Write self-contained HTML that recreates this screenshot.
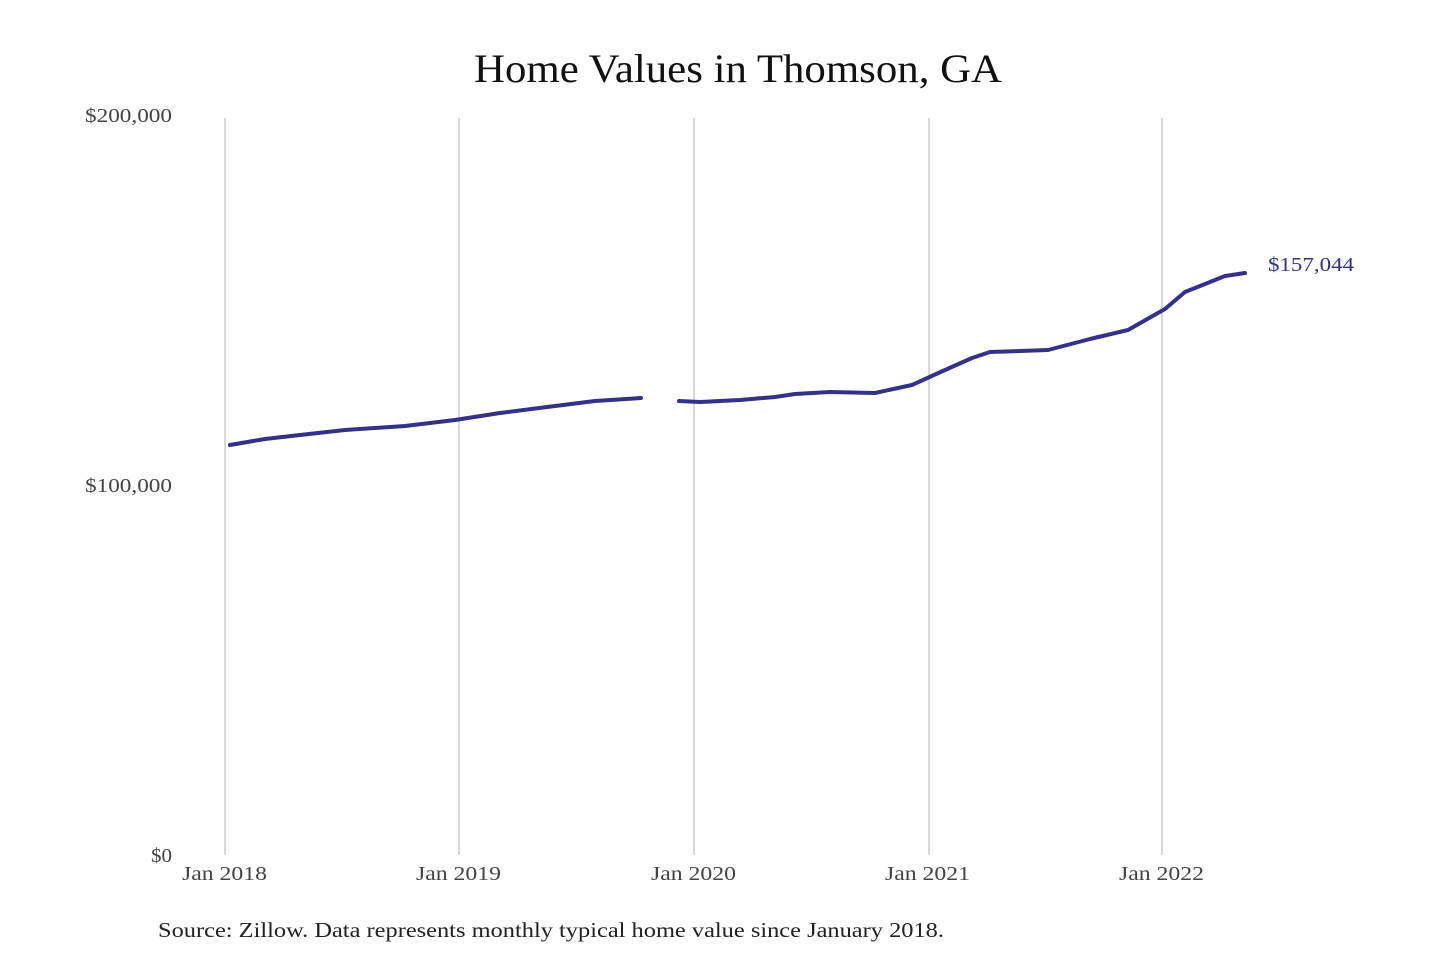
<!DOCTYPE html>
<html><head><meta charset="utf-8"><style>
html,body{margin:0;padding:0;background:#fff;}
svg text{font-family:"Liberation Serif",serif;}
</style></head><body>
<svg width="1440" height="960" xmlns="http://www.w3.org/2000/svg">
<rect width="1440" height="960" fill="#fff"/>
<text x="474" y="82" font-size="40" textLength="528" lengthAdjust="spacingAndGlyphs" fill="#111">Home Values in Thomson, GA</text>
<g stroke="#bdbdbd" stroke-width="1.2">
<line x1="225" y1="118" x2="225" y2="855"/>
<line x1="459" y1="118" x2="459" y2="855"/>
<line x1="694" y1="118" x2="694" y2="855"/>
<line x1="929" y1="118" x2="929" y2="855"/>
<line x1="1162" y1="118" x2="1162" y2="855"/>
</g>
<g font-size="20" fill="#444">
<text x="85" y="122" textLength="87" lengthAdjust="spacingAndGlyphs">$200,000</text>
<text x="85" y="492" textLength="87" lengthAdjust="spacingAndGlyphs">$100,000</text>
<text x="151" y="862" textLength="21" lengthAdjust="spacingAndGlyphs">$0</text>
</g>
<g font-size="20" fill="#444">
<text x="182" y="880" textLength="85" lengthAdjust="spacingAndGlyphs">Jan 2018</text>
<text x="416" y="880" textLength="85" lengthAdjust="spacingAndGlyphs">Jan 2019</text>
<text x="651" y="880" textLength="85" lengthAdjust="spacingAndGlyphs">Jan 2020</text>
<text x="885" y="880" textLength="85" lengthAdjust="spacingAndGlyphs">Jan 2021</text>
<text x="1119" y="880" textLength="85" lengthAdjust="spacingAndGlyphs">Jan 2022</text>
</g>
<g fill="none" stroke="#33318a" stroke-width="4" stroke-linejoin="round" stroke-linecap="round">
<polyline points="230,445 265,439 300,435 345,430 405,426 455,420 500,413 555,406 595,401 641,398"/>
<polyline points="679,401 700,402 740,400 775,397 795,394 830,392 875,393 912,385 945,370 972,358 990,352 1048,350 1090,339 1128,330 1165,309 1185,292 1225,276 1245,273"/>
</g>
<text x="1268" y="271" font-size="20" fill="#33318a" textLength="86" lengthAdjust="spacingAndGlyphs">$157,044</text>
<text x="158" y="937" font-size="21" fill="#222" textLength="786" lengthAdjust="spacingAndGlyphs">Source: Zillow. Data represents monthly typical home value since January 2018.</text>
</svg>
</body></html>
